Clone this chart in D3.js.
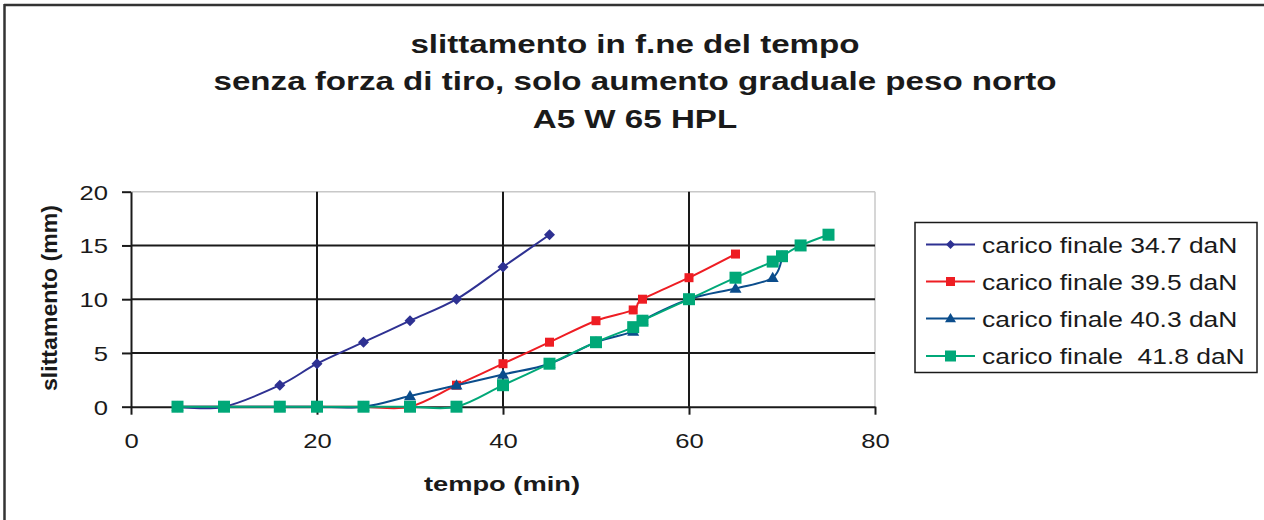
<!DOCTYPE html>
<html>
<head>
<meta charset="utf-8">
<script src="https://cdn.jsdelivr.net/npm/d3@7"></script>
<style>
  html, body { margin: 0; padding: 0; background: #fff; }
  svg { display: block; }
  text { font-family: "Liberation Sans", Arial, sans-serif; fill: #1a1a1a; }
</style>
</head>
<body>
<svg id="chart" width="1264" height="520"></svg>
<script>
// ---- data ----
const titleLines = ["slittamento in f.ne del tempo", "senza forza di tiro, solo aumento graduale peso norto", "A5 W 65 HPL"];
const xTicks = [0, 20, 40, 60, 80];
const yTicks = [0, 5, 10, 15, 20];
const seriesNames = ["carico finale 34.7 daN", "carico finale 39.5 daN", "carico finale 40.3 daN", "carico finale  41.8 daN"];

const s1x = [5, 10, 16, 20, 25, 30, 35, 40, 45];
const s1y = [0, 0, 2, 4, 6, 8, 10, 13, 16];
const s2x = [5, 10, 16, 20, 25, 30, 35, 40, 45, 50, 54, 55, 60, 65];
const s2y = [0, 0, 0, 0, 0, 0, 2, 4, 6, 8, 9, 10, 12, 14.2];
const s3x = [5, 10, 16, 20, 25, 30, 35, 40, 45, 50, 54, 55, 60, 65, 69, 70];
const s3y = [0, 0, 0, 0, 0, 1, 2, 3, 4, 6, 7, 8, 10, 11, 12, 14];
const s4x = [5, 10, 16, 20, 25, 30, 35, 40, 45, 50, 54, 55, 60, 65, 69, 70, 72, 75];
const s4y = [0, 0, 0, 0, 0, 0, 0, 2, 4, 6, 7.4, 8, 10, 12, 13.5, 14, 15, 16];

// ---- styles ----
const colors = ["#2e3192", "#ee1d23", "#0b4d8c", "#00a878"];
const markers = ["diamond", "square", "triangle", "square"];
const markerSizes = [11, 9, 12, 12];
const legendMarkerSizes = [9, 9, 11, 11];

const series = [
  s1x.map((x, i) => ({x, y: s1y[i]})),
  s2x.map((x, i) => ({x, y: s2y[i]})),
  s3x.map((x, i) => ({x, y: s3y[i]})),
  s4x.map((x, i) => ({x, y: s4y[i]}))
];

const svg = d3.select("#chart");
const plot = {left: 131, right: 875, top: 191.7, bottom: 406.7};

const x = d3.scaleLinear().domain([0, 80]).range([plot.left, plot.right]);
const y = d3.scaleLinear().domain([0, 20]).range([plot.bottom, plot.top]);

function stretch(sel, k) {
  sel.each(function () {
    const w = this.getComputedTextLength();
    d3.select(this).attr("textLength", w * k).attr("lengthAdjust", "spacingAndGlyphs");
  });
}

// outer frame (only top and left visible)
svg.append("line").attr("x1", 4.5).attr("x2", 4.5).attr("y1", 4).attr("y2", 520)
  .attr("stroke", "#333").attr("stroke-width", 2.5);
svg.append("line").attr("x1", 4).attr("x2", 1264).attr("y1", 5).attr("y2", 5)
  .attr("stroke", "#333").attr("stroke-width", 2.5);

// title
const titleY = [52.5, 90, 127.5];
svg.selectAll("text.title").data(titleLines).enter().append("text")
  .attr("class", "title")
  .attr("x", 635).attr("y", (d, i) => titleY[i])
  .attr("text-anchor", "middle")
  .attr("font-size", 25).attr("font-weight", "bold")
  .text(d => d)
  .call(stretch, 1.325);

// plot frame top/right in light gray
svg.append("line").attr("x1", plot.left).attr("x2", plot.right).attr("y1", plot.top).attr("y2", plot.top)
  .attr("stroke", "#c8c8c8").attr("stroke-width", 1.5);
svg.append("line").attr("x1", plot.right).attr("x2", plot.right).attr("y1", plot.top).attr("y2", plot.bottom)
  .attr("stroke", "#c8c8c8").attr("stroke-width", 1.5);

// gridlines
svg.append("g").selectAll("line").data(yTicks.filter(v => v > 0 && v < 20)).enter().append("line")
  .attr("x1", plot.left).attr("x2", plot.right)
  .attr("y1", d => y(d)).attr("y2", d => y(d))
  .attr("stroke", "#1a1a1a").attr("stroke-width", 2);
svg.append("g").selectAll("line").data(xTicks.filter(v => v > 0 && v < 80)).enter().append("line")
  .attr("x1", d => x(d)).attr("x2", d => x(d))
  .attr("y1", plot.top).attr("y2", plot.bottom)
  .attr("stroke", "#1a1a1a").attr("stroke-width", 2);

// axes
const xAxis = svg.append("g").attr("transform", `translate(0,${plot.bottom})`)
  .call(d3.axisBottom(x).tickValues(xTicks).tickSize(8).tickPadding(26).tickSizeOuter(0));
const yAxis = svg.append("g").attr("transform", `translate(${plot.left},0)`)
  .call(d3.axisLeft(y).tickValues(yTicks).tickSize(9).tickPadding(14).tickSizeOuter(0));
[xAxis, yAxis].forEach(a => {
  a.select(".domain").attr("stroke", "#1a1a1a").attr("stroke-width", 2);
  a.selectAll(".tick line").attr("stroke", "#1a1a1a").attr("stroke-width", 2);
  a.selectAll(".tick text").attr("font-size", 21).attr("fill", "#1a1a1a")
    .attr("font-family", "Liberation Sans, Arial, sans-serif");
});
xAxis.selectAll(".tick text").attr("dy", "0.35em").call(stretch, 1.22);
yAxis.selectAll(".tick text").attr("dy", "0.35em").call(stretch, 1.22);

// axis titles
svg.append("text").attr("x", 502).attr("y", 491).attr("text-anchor", "middle")
  .attr("font-size", 21).attr("font-weight", "bold").text("tempo (min)")
  .call(stretch, 1.3);
svg.append("text").attr("transform", "translate(57,298) rotate(-90)")
  .attr("text-anchor", "middle").attr("font-size", 22).attr("font-weight", "bold")
  .text("slittamento (mm)")
  .call(sel => sel.attr("textLength", 186).attr("lengthAdjust", "spacingAndGlyphs"));

// marker generator
function markerPath(type, s) {
  const h = s / 2;
  if (type === "diamond") return `M0,${-h}L${h},0L0,${h}L${-h},0Z`;
  if (type === "square") return `M${-h},${-h}H${h}V${h}H${-h}Z`;
  if (type === "triangle") return `M0,${-h}L${h},${h * 0.7}L${-h},${h * 0.7}Z`;
}

const line = d3.line().x(d => x(d.x)).y(d => y(d.y)).curve(d3.curveCardinal.tension(0));

series.forEach((data, i) => {
  const g = svg.append("g");
  g.append("path").datum(data).attr("d", line)
    .attr("fill", "none").attr("stroke", colors[i]).attr("stroke-width", 2);
  g.selectAll("path.m").data(data).enter().append("path").attr("class", "m")
    .attr("transform", d => `translate(${x(d.x)},${y(d.y)})`)
    .attr("d", markerPath(markers[i], markerSizes[i]))
    .attr("fill", colors[i]);
});

// legend
const leg = svg.append("g");
leg.append("rect").attr("x", 915).attr("y", 222.5).attr("width", 342).attr("height", 150)
  .attr("fill", "#fff").attr("stroke", "#1a1a1a").attr("stroke-width", 1.5);
const rowY = [244.5, 281.5, 318.5, 356];
seriesNames.forEach((name, i) => {
  leg.append("line").attr("x1", 926).attr("x2", 975).attr("y1", rowY[i]).attr("y2", rowY[i])
    .attr("stroke", colors[i]).attr("stroke-width", 2);
  leg.append("path").attr("transform", `translate(950.5,${rowY[i]})`)
    .attr("d", markerPath(markers[i], legendMarkerSizes[i])).attr("fill", colors[i]);
  leg.append("text").attr("x", 982).attr("y", rowY[i] + 8).attr("font-size", 22)
    .style("white-space", "pre")
    .text(name).call(stretch, 1.2);
});
</script>
</body>
</html>
